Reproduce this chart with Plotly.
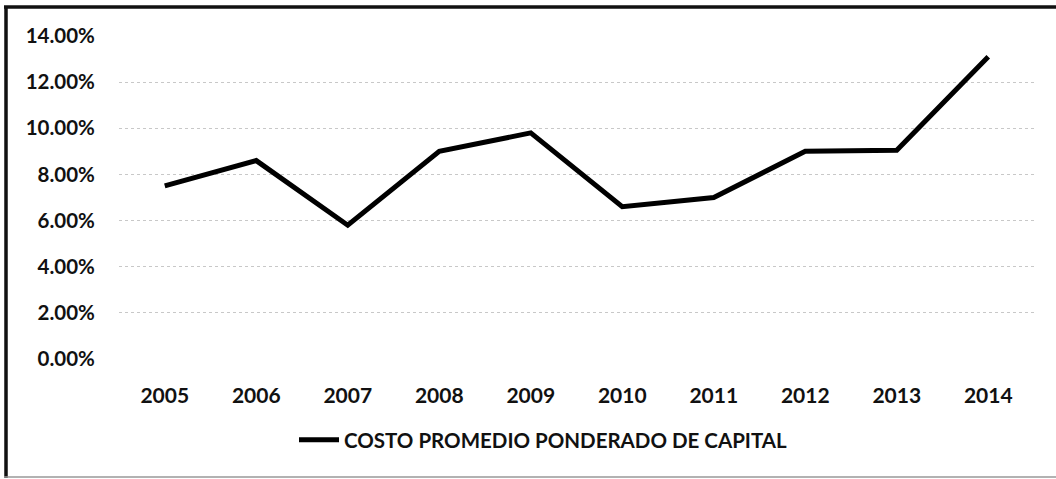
import plotly.graph_objects as go

# Weighted average cost of capital by year
years = ["2005", "2006", "2007", "2008", "2009", "2010", "2011", "2012", "2013", "2014"]
wacc = [0.075, 0.086, 0.058, 0.090, 0.098, 0.066, 0.070, 0.090, 0.0905, 0.131]
y_ticks = [0.00, 0.02, 0.04, 0.06, 0.08, 0.10, 0.12, 0.14]
y_tick_text = ["0.00%", "2.00%", "4.00%", "6.00%", "8.00%", "10.00%", "12.00%", "14.00%"]
series_name = "COSTO PROMEDIO PONDERADO DE CAPITAL"

FONT = "Lato"

fig = go.Figure()
fig.add_trace(go.Scatter(
    x=years, y=wacc, mode="lines", name=series_name,
    line=dict(color="black", width=5),
))

# plot area geometry (pixels) used to place the outer frame in paper coords
W, H = 1056, 479
L, R, T, B = 119, 22, 36, 120
pw, ph = W - L - R, H - T - B


def px_x(x):
    return (x - L) / pw


def px_y(y):
    return (H - B - y) / ph


fig.update_layout(
    width=W, height=H,
    margin=dict(l=L, r=R, t=T, b=B),
    paper_bgcolor="white", plot_bgcolor="white",
    font=dict(family=FONT, color="#111"),
    showlegend=True,
    legend=dict(
        orientation="h", x=px_x(294), xanchor="left",
        y=px_y(440), yanchor="middle",
        font=dict(family=FONT, size=20.5, color="#111", weight="bold"),
        itemwidth=40,
    ),
    xaxis=dict(
        type="category", showgrid=False, zeroline=False, showline=False,
        ticks="outside", ticklen=18, tickcolor="rgba(0,0,0,0)",
        tickfont=dict(family=FONT, size=21, color="#111", weight="bold"),
        range=[-0.5, 9.5],
    ),
    yaxis=dict(
        range=[0, 0.14], tickvals=y_ticks, ticktext=y_tick_text,
        showgrid=True, gridcolor="#c8c8c8", griddash="dot", gridwidth=1,
        zeroline=False, showline=False,
        ticks="outside", ticklen=19, tickcolor="rgba(0,0,0,0)",
        tickfont=dict(family=FONT, size=20.5, color="#111", weight="bold"),
    ),
    shapes=[
        # outer frame: heavy top and left edges, faint bottom edge
        dict(type="line", xref="paper", yref="paper",
             x0=px_x(4), x1=px_x(1056), y0=px_y(7), y1=px_y(7),
             line=dict(color="#111", width=3.5)),
        dict(type="line", xref="paper", yref="paper",
             x0=px_x(6), x1=px_x(6), y0=px_y(6), y1=px_y(478),
             line=dict(color="#111", width=3.5)),
        dict(type="line", xref="paper", yref="paper",
             x0=px_x(4), x1=px_x(1056), y0=px_y(477), y1=px_y(477),
             line=dict(color="#999", width=1.5)),
    ],
)

fig.write_html("out.html")
